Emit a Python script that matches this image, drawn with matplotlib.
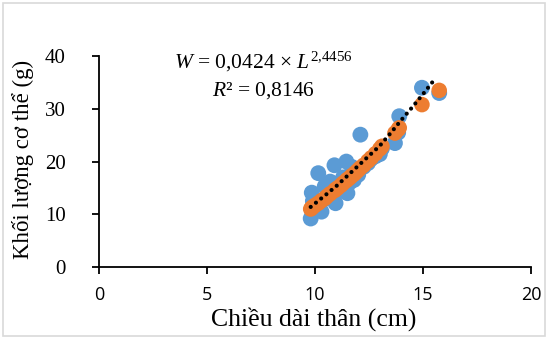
import matplotlib
matplotlib.use("Agg")
import matplotlib.pyplot as plt
from matplotlib.patches import Rectangle

# --- DATA ---
length_cm = [9.8, 9.85, 9.9, 10.0, 10.15, 10.3, 10.45, 10.55, 10.7, 10.9, 10.95,
             11.05, 11.2, 11.3, 11.45, 11.5, 11.6, 11.7, 11.8, 11.9, 12.0, 12.1,
             12.25, 12.45, 12.6, 12.8, 13.0, 13.1, 13.7, 13.85, 13.9, 14.95, 15.75]
weight_obs = [9.2, 14.1, 12.5, 11.5, 17.8, 10.5, 15.3, 13.0, 16.2, 19.3, 12.1,
              15.5, 14.5, 17.0, 20.0, 14.0, 16.0, 19.0, 16.5, 18.5, 17.5, 25.1,
              19.0, 19.7, 20.5, 21.0, 21.4, 22.5, 23.5, 25.5, 28.6, 34.0, 33.0]
weight_pred = [11.0, 11.2, 11.4, 11.7, 12.1, 12.6, 13.0, 13.4, 13.9, 14.5, 14.7,
               15.0, 15.5, 15.9, 16.4, 16.6, 16.9, 17.3, 17.6, 18.0, 18.4, 18.8,
               19.3, 20.1, 20.7, 21.5, 22.4, 22.9, 25.4, 26.1, 26.4, 30.8, 33.5]
trend_x = [9.8, 10.5, 11.0, 11.5, 12.0, 12.5, 13.0, 13.5, 14.0, 14.5, 15.0, 15.5]
trend_y = [11.4, 13.7, 15.4, 17.3, 19.2, 21.1, 23.0, 25.4, 27.9, 30.3, 32.8, 35.4]

x_ticks = [0, 5, 10, 15, 20]
y_ticks = [0, 10, 20, 30, 40]

SERIF = "Liberation Serif"
plt.rcParams['mathtext.fontset'] = 'custom'
plt.rcParams['mathtext.rm'] = SERIF
plt.rcParams['mathtext.it'] = SERIF + ':italic'

fig = plt.figure(figsize=(5.48, 3.38), dpi=100)
ax = fig.add_axes([0.1807, 0.21, 0.7883, 0.624])

# light frame around chart area
fig.patches.append(Rectangle((0.006, 0.006), 0.988, 0.985, transform=fig.transFigure,
                             fill=False, edgecolor='#d9d9d9', linewidth=1.2))

ax.scatter(length_cm, weight_obs, s=130, color='#5b9bd5', edgecolors='none', zorder=2)
ax.scatter(length_cm, weight_pred, s=125, color='#ed7d31', edgecolors='none', zorder=3)
ax.plot(trend_x, trend_y, color='black', linestyle=(0, (0.01, 1.6)), linewidth=3.0,
        dash_capstyle='round', zorder=4)

ax.set_xlim(0, 20)
ax.set_ylim(0, 40)
ax.set_xticks(x_ticks)
ax.set_yticks(y_ticks)
ax.set_xticklabels([str(t) for t in x_ticks], fontfamily='Open Sans', fontsize=13)
ax.set_yticklabels([str(t) for t in y_ticks], fontfamily=SERIF, fontsize=15)
ax.tick_params(axis='both', direction='out', length=5, width=1.3, color='black')
ax.tick_params(axis='x', pad=9)
ax.tick_params(axis='y', pad=19)

for side in ['top', 'right']:
    ax.spines[side].set_visible(False)
for side in ['left', 'bottom']:
    ax.spines[side].set_linewidth(1.3)

ax.set_xlabel('Chiều dài thân (cm)', fontfamily=SERIF, fontsize=18.5)
ax.set_ylabel('Khối lượng cơ thể (g)', fontfamily=SERIF, fontsize=16.5)
ax.xaxis.set_label_coords(0.498, -0.19)
ax.yaxis.set_label_coords(-0.15, 0.51)

ax.text(0.38, 0.97, r'$W$ = 0,0424 × $L^{2{,}4456}$', transform=ax.transAxes,
        ha='center', va='center', fontfamily=SERIF, fontsize=15.5)
ax.text(0.38, 0.835, r'$R$² = 0,8146', transform=ax.transAxes,
        ha='center', va='center', fontfamily=SERIF, fontsize=15.5)

fig.savefig('out.png', dpi=100)
